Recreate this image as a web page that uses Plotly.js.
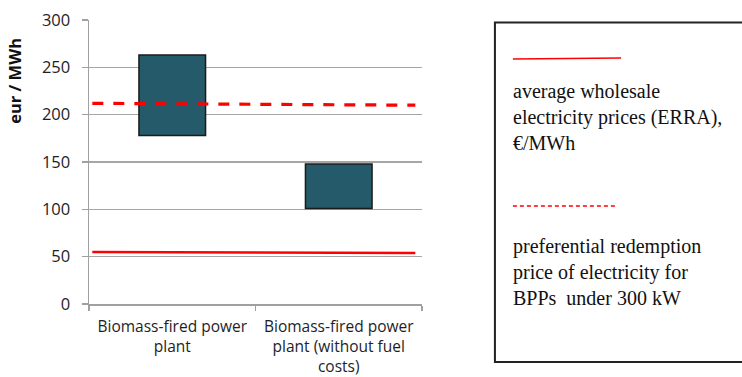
<!DOCTYPE html>
<html>
<head>
<meta charset="utf-8">
<script src="https://cdn.plot.ly/plotly-3.0.1.min.js"></script>
<style>html,body{margin:0;padding:0;background:#fff;}#chart{width:742px;height:377px;}</style>
</head>
<body>
<div id="chart"></div>
<script>
// ---- data ----
const categories = ["Biomass-fired power<br>plant", "Biomass-fired power<br>plant (without fuel<br>costs)"];
const rangeLow  = [178, 101];
const rangeHigh = [263, 148];
const lineX = [-0.48, 1.46];          // horizontal extent of the reference lines (category units)
const wholesalePrice = [55, 54];       // solid red, €/MWh
const redemptionPrice = [212, 210];    // dashed red, €/MWh
const yTicks = [0, 50, 100, 150, 200, 250, 300];
const yTitle = "eur / MWh";
const legendText1 = "average wholesale<br>electricity prices (ERRA),<br>€/MWh";
const legendText2 = "preferential redemption<br>price of electricity for<br>BPPs&nbsp; under 300 kW";

const spans = rangeHigh.map((h, i) => h - rangeLow[i]);

const xTickFont = {family: "Open Sans, sans-serif", size: 15.5, color: "#1e1e28"};
const yTickFont = {family: "Open Sans, sans-serif", size: 16.5, color: "#1e1e28"};
const serif = {family: "Liberation Serif, Times New Roman, serif", size: 20, color: "#111"};

const traces = [
  {
    type: "bar", x: categories, y: spans, base: rangeLow, width: 0.4,
    marker: {color: "#245a69", line: {color: "#1b1b1b", width: 1.5}},
    hoverinfo: "none", showlegend: false
  },
  {
    type: "scatter", mode: "lines", x: lineX, y: wholesalePrice, xaxis: "x2",
    line: {color: "#ff0000", width: 2.5}, hoverinfo: "none", showlegend: false
  },
  {
    type: "scatter", mode: "lines", x: lineX, y: redemptionPrice, xaxis: "x2",
    line: {color: "#ff0000", width: 3.2, dash: "11px,10px"}, hoverinfo: "none", showlegend: false
  }
];

const layout = {
  width: 742, height: 377,
  margin: {l: 89, r: 320, t: 20, b: 73, pad: 0},
  paper_bgcolor: "#fff", plot_bgcolor: "#fff",
  showlegend: false,
  xaxis: {
    type: "category", range: [-0.5, 1.5],
    showline: true, linecolor: "#a0a0a0", linewidth: 1.5,
    ticks: "outside", tickson: "boundaries", ticklen: 5, tickcolor: "#a0a0a0", tickwidth: 1.5,
    showgrid: false, tickfont: xTickFont, ticklabelstandoff: 8, zeroline: false, fixedrange: true
  },
  xaxis2: {
    overlaying: "x", range: [-0.5, 1.5], visible: false, fixedrange: true
  },
  yaxis: {
    range: [0, 300], tickvals: yTicks, ticktext: yTicks.map(String),
    showline: true, linecolor: "#a0a0a0", linewidth: 1.5,
    ticks: "outside", ticklen: 6, tickcolor: "#a0a0a0", tickwidth: 1.5,
    showgrid: true, gridcolor: "#a6a6a6", gridwidth: 1.5,
    zeroline: false, tickfont: yTickFont, ticklabelstandoff: 8, fixedrange: true
  },
  shapes: [
    {type: "rect", xref: "paper", yref: "paper", x0: 1.219, x1: 2.1, y0: -0.204, y1: 0.991,
     line: {color: "#222", width: 2}, fillcolor: "rgba(0,0,0,0)", layer: "above"},
    {type: "line", xref: "paper", yref: "paper", x0: 1.273, x1: 1.598, y0: 0.863, y1: 0.866,
     line: {color: "#ff0000", width: 1.5}},
    {type: "line", xref: "paper", yref: "paper", x0: 1.273, x1: 1.580, y0: 0.345, y1: 0.345,
     line: {color: "#ff0000", width: 1.3, dash: "4px,3px"}}
  ],
  annotations: [
    {text: "<b>" + yTitle + "</b>", xref: "paper", yref: "paper", x: -0.222, y: 0.786,
     textangle: -90, showarrow: false, xanchor: "center", yanchor: "middle",
     font: {family: "Open Sans, sans-serif", size: 16.5, color: "#111"}},
    {text: legendText1, xref: "paper", yref: "paper", x: 1.268, y: 0.795,
     xanchor: "left", yanchor: "top", align: "left", showarrow: false, font: serif},
    {text: legendText2, xref: "paper", yref: "paper", x: 1.268, y: 0.25,
     xanchor: "left", yanchor: "top", align: "left", showarrow: false, font: serif}
  ]
};

Plotly.newPlot("chart", traces, layout, {displayModeBar: false, staticPlot: true});
</script>
</body>
</html>
